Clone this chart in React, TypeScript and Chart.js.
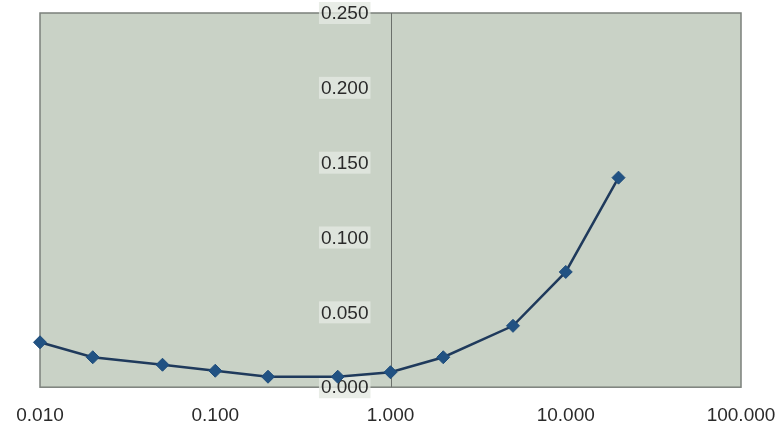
import React, { useEffect, useRef } from "react";
import { Chart, registerables } from "chart.js";

Chart.register(...registerables);

// Data
const xValues = [0.01, 0.02, 0.05, 0.1, 0.2, 0.5, 1, 2, 5, 10, 20];
const yValues = [0.030, 0.020, 0.015, 0.011, 0.007, 0.007, 0.010, 0.020, 0.041, 0.077, 0.140];
const xTicks = [0.01, 0.1, 1, 10, 100];
const yTicks = [0, 0.05, 0.1, 0.15, 0.2, 0.25];
const yAxisCrossAt = 1;

const FONT_FAMILY = "'Liberation Sans', Arial, sans-serif";
const FONT_SIZE = 19;
const TEXT = "#2a2a2a";

const plotBg = {
  id: "plotBg",
  beforeDraw(chart: any) {
    const { ctx, chartArea: a } = chart;
    ctx.save();
    ctx.fillStyle = "#c9d2c6";
    ctx.fillRect(a.left, a.top, a.right - a.left, a.bottom - a.top);
    ctx.restore();
  },
  beforeDatasetsDraw(chart: any) {
    const { ctx, chartArea: a, scales } = chart;
    ctx.save();
    ctx.strokeStyle = "#7b807b";
    ctx.lineWidth = 1.5;
    ctx.strokeRect(a.left, a.top, a.right - a.left, a.bottom - a.top);
    // y axis line crossing at x = 1
    const ax = Math.round(scales.x.getPixelForValue(yAxisCrossAt)) + 0.5;
    ctx.strokeStyle = "#6b706b";
    ctx.lineWidth = 1;
    ctx.beginPath();
    ctx.moveTo(ax, a.top);
    ctx.lineTo(ax, a.bottom);
    ctx.stroke();
    // y tick labels to the left of that axis
    ctx.font = `${FONT_SIZE}px ${FONT_FAMILY}`;
    ctx.textAlign = "right";
    ctx.textBaseline = "middle";
    yTicks.forEach((v) => {
      const label = v.toFixed(3);
      const y = scales.y.getPixelForValue(v);
      const xr = ax - 23;
      const w = ctx.measureText(label).width;
      ctx.fillStyle = "rgba(228,233,225,0.8)";
      ctx.fillRect(xr - w - 2, y - 11, w + 4, 22);
      ctx.fillStyle = TEXT;
      ctx.fillText(label, xr, y + 1);
    });
    ctx.restore();
  },
};

export default function App() {
  const ref = useRef<HTMLCanvasElement | null>(null);

  useEffect(() => {
    if (!ref.current) return;
    const chart = new Chart(ref.current, {
      type: "scatter",
      data: {
        datasets: [
          {
            data: xValues.map((x, i) => ({ x, y: yValues[i] })),
            showLine: true,
            clip: false,
            borderColor: "#1f3a5c",
            borderWidth: 2.5,
            backgroundColor: "#215283",
            pointStyle: "rectRot",
            pointRadius: 6.5,
            pointBorderColor: "#1e4d7c",
            pointBorderWidth: 1,
            tension: 0,
          } as any,
        ],
      },
      options: {
        responsive: false,
        animation: false,
        layout: { padding: { left: 40, right: 34, top: 13, bottom: -16 } },
        plugins: {
          legend: { display: false },
          tooltip: { enabled: false },
        },
        scales: {
          x: {
            type: "logarithmic",
            position: "bottom",
            min: 0.01,
            max: 100,
            afterBuildTicks: (s: any) => {
              s.ticks = xTicks.map((v) => ({ value: v }));
            },
            afterFit: (s: any) => {
              s.paddingLeft = 0;
              s.paddingRight = 0;
            },
            ticks: {
              callback: (v: any) => Number(v).toFixed(3),
              font: { family: FONT_FAMILY, size: FONT_SIZE },
              color: TEXT,
              padding: 17,
              autoSkip: false,
              maxRotation: 0,
            },
            grid: { display: false, drawTicks: false },
            border: { display: false },
          },
          y: {
            type: "linear",
            display: false,
            min: 0,
            max: 0.25,
          },
        },
      },
      plugins: [plotBg],
    });
    return () => chart.destroy();
  }, []);

  return (
    <div style={{ position: "fixed", left: 0, top: 0, width: 775, height: 428, background: "#ffffff" }}>
      <canvas ref={ref} width={775} height={428} />
    </div>
  );
}
